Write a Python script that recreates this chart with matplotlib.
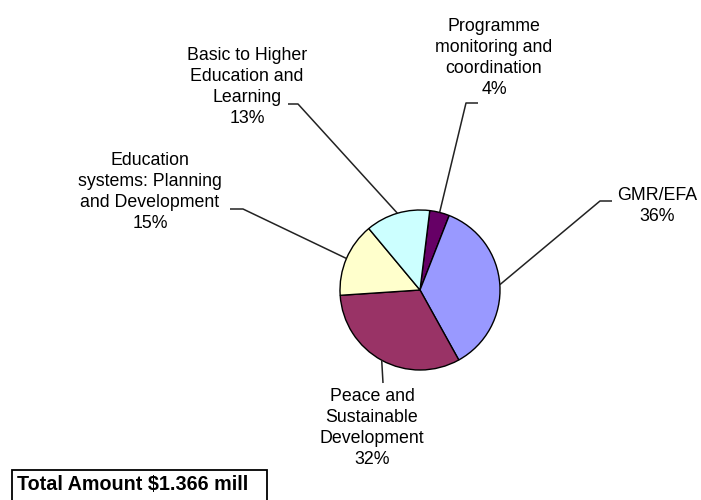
import matplotlib
matplotlib.use("Agg")
import matplotlib.pyplot as plt
from matplotlib.patches import Rectangle
import numpy as np

categories = ["Programme\nmonitoring and\ncoordination", "GMR/EFA",
              "Peace and\nSustainable\nDevelopment",
              "Education\nsystems: Planning\nand Development",
              "Basic to Higher\nEducation and\nLearning"]
values = [4, 36, 32, 15, 13]
colors = ["#660066", "#9999FF", "#993366", "#FFFFCC", "#CCFFFF"]
total_label = "Total Amount $1.366 mill"

plt.rcParams['font.family'] = ['Liberation Sans', 'DejaVu Sans']
W, H = 701, 500
fig = plt.figure(figsize=(W / 100, H / 100), dpi=100)
ax = fig.add_axes([0, 0, 1, 1])

def Y(py):
    return H - py

cx, cy, r = 420, Y(290), 80
wedges, _ = ax.pie(values, colors=colors, startangle=83, counterclock=False,
                   center=(cx, cy), radius=r,
                   wedgeprops=dict(edgecolor="black", linewidth=1))
ax.set_xlim(0, W)
ax.set_ylim(0, H)
ax.set_aspect("equal")
ax.axis("off")

# label layout: text center (px), elbow start, elbow end (px)
layout = [
    ((494, 58), (478, 103), (466, 103)),
    ((657, 206), (612, 201), (600, 201)),
    ((372, 428), None, (383, 383)),
    ((150, 192), (230, 209), (243, 209)),
    ((247, 87), (288, 104), (298, 104)),
]
fs = 12.8
for w, cat, v, (tc, e1, e2) in zip(wedges, categories, values, layout):
    ang = np.deg2rad((w.theta1 + w.theta2) / 2)
    ex, ey = cx + r * np.cos(ang), cy + r * np.sin(ang)
    ax.text(tc[0], Y(tc[1]), f"{cat}\n{v:.0f}%", ha="center", va="center",
            fontsize=fs, linespacing=1.32, color="black")
    xs, ys = [], []
    if e1 is not None:
        xs.append(e1[0]); ys.append(Y(e1[1]))
    xs.append(e2[0]); ys.append(Y(e2[1]))
    xs.append(ex); ys.append(ey)
    ax.plot(xs, ys, color="#222222", lw=1.1, solid_capstyle="butt")

ax.add_patch(Rectangle((12, Y(505)), 255, 35, fill=False, edgecolor="black",
                       lw=1.3, clip_on=False))
ax.text(17, Y(485), total_label, ha="left", va="center", fontsize=14.2,
        fontweight="bold", color="black")

fig.savefig("out.png", dpi=100)
